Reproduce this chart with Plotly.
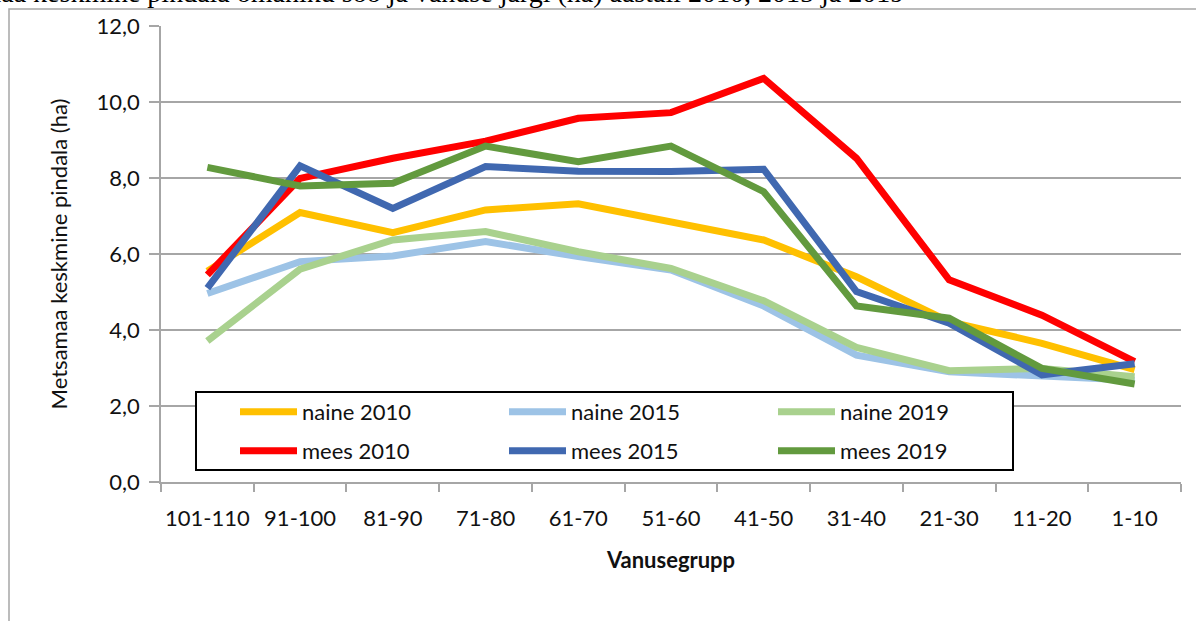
import plotly.graph_objects as go

categories = ["101-110", "91-100", "81-90", "71-80", "61-70", "51-60",
              "41-50", "31-40", "21-30", "11-20", "1-10"]

naine_2010 = [5.55, 7.09, 6.56, 7.16, 7.32, 6.85, 6.37, 5.40, 4.22, 3.65, 2.96]
naine_2015 = [4.96, 5.80, 5.95, 6.33, 5.93, 5.58, 4.63, 3.34, 2.90, 2.77, 2.68]
naine_2019 = [3.71, 5.60, 6.37, 6.59, 6.06, 5.62, 4.77, 3.54, 2.93, 2.99, 2.77]
mees_2010 = [5.45, 7.99, 8.52, 8.97, 9.57, 9.72, 10.62, 8.52, 5.32, 4.39, 3.17]
mees_2015 = [5.10, 8.32, 7.20, 8.30, 8.18, 8.17, 8.23, 5.01, 4.18, 2.82, 3.11]
mees_2019 = [8.28, 7.79, 7.86, 8.84, 8.43, 8.84, 7.64, 4.63, 4.31, 2.99, 2.58]

series_names = ["naine 2010", "naine 2015", "naine 2019",
                "mees 2010", "mees 2015", "mees 2019"]
series_values = [naine_2010, naine_2015, naine_2019, mees_2010, mees_2015, mees_2019]
series_colors = ["#FFC000", "#9DC3E6", "#A9D18E", "#FF0000", "#4068B0", "#629A3E"]
series_legend = ["legend", "legend", "legend", "legend2", "legend2", "legend2"]

y_title = "Metsamaa keskmine pindala (ha)"
x_title = "Vanusegrupp"
top_text = "Metsamaa keskmine pindala omaniku soo ja vanuse järgi (ha) aastail 2010, 2015 ja 2019"

FONT = "Lato"
W, H = 1196, 621
ML, MR, MT, MB = 161, 15, 26, 139
PW = W - ML - MR
PH = H - MT - MB

fig = go.Figure()
for name, vals, col, lg in zip(series_names, series_values, series_colors, series_legend):
    fig.add_trace(go.Scatter(
        x=categories, y=vals, name=name, mode="lines",
        line=dict(color=col, width=7), legend=lg,
    ))

def px_to_paper_x(px):
    return (px - ML) / PW

def px_to_paper_y(py):
    return (H - MB - py) / PH

legend_common = dict(
    orientation="h",
    xanchor="left", yanchor="middle",
    bgcolor="rgba(0,0,0,0)", borderwidth=0,
    entrywidth=197, entrywidthmode="pixels",
    itemwidth=57,
    font=dict(family=FONT, size=22, color="#111111"),
)

fig.update_layout(
    width=W, height=H,
    margin=dict(l=ML, r=MR, t=MT, b=MB, autoexpand=False),
    paper_bgcolor="white", plot_bgcolor="white",
    separators=",.",
    font=dict(family=FONT, size=22, color="#111111"),
    showlegend=True,
    legend=dict(x=px_to_paper_x(235), y=px_to_paper_y(412), **legend_common),
    legend2=dict(x=px_to_paper_x(235), y=px_to_paper_y(451), **legend_common),
    xaxis=dict(
        type="category",
        range=[-0.5, len(categories) - 0.5],
        showgrid=False, automargin=False,
        showline=True, linecolor="#A6A6A6", linewidth=1.5,
        ticks="outside", ticklen=8, tickcolor="#A6A6A6", tickwidth=1.5,
        tickson="boundaries", tickangle=0,
        ticklabelstandoff=16,
        title=dict(text="<b>" + x_title + "</b>", standoff=22,
                   font=dict(family=FONT, size=22)),
        tickfont=dict(family=FONT, size=22),
    ),
    yaxis=dict(
        range=[0, 12], dtick=2, tickformat=".1f",
        showgrid=True, gridcolor="#A6A6A6", gridwidth=1.5,
        showline=True, linecolor="#A6A6A6", linewidth=1.5,
        ticks="outside", ticklen=10, tickcolor="#A6A6A6", tickwidth=1.5,
        ticklabelstandoff=5, automargin=False,
        zeroline=False,
        title=dict(text=y_title, standoff=23, font=dict(family=FONT, size=22)),
        tickfont=dict(family=FONT, size=22),
    ),
)

# outer frame of the embedded chart object
fig.add_shape(type="rect", xref="paper", yref="paper",
              x0=px_to_paper_x(9), x1=px_to_paper_x(1230),
              y0=px_to_paper_y(680), y1=px_to_paper_y(9),
              line=dict(color="#A6A6A6", width=1.5), fillcolor="rgba(0,0,0,0)",
              layer="below")

# legend box (white, covers the plot behind it)
fig.add_shape(type="rect", xref="paper", yref="paper",
              x0=px_to_paper_x(196), x1=px_to_paper_x(1013),
              y0=px_to_paper_y(470), y1=px_to_paper_y(392),
              line=dict(color="black", width=2), fillcolor="white",
              layer="above")

# cut-off caption above the chart
fig.add_annotation(text=top_text, xref="paper", yref="paper",
                   x=px_to_paper_x(905), y=px_to_paper_y(9),
                   xanchor="right", yanchor="bottom", showarrow=False,
                   borderpad=0,
                   font=dict(family="Liberation Serif", size=28, color="black"))

fig.write_html("out.html", post_script="document.body.style.margin='0';",
               config={"displayModeBar": False})
